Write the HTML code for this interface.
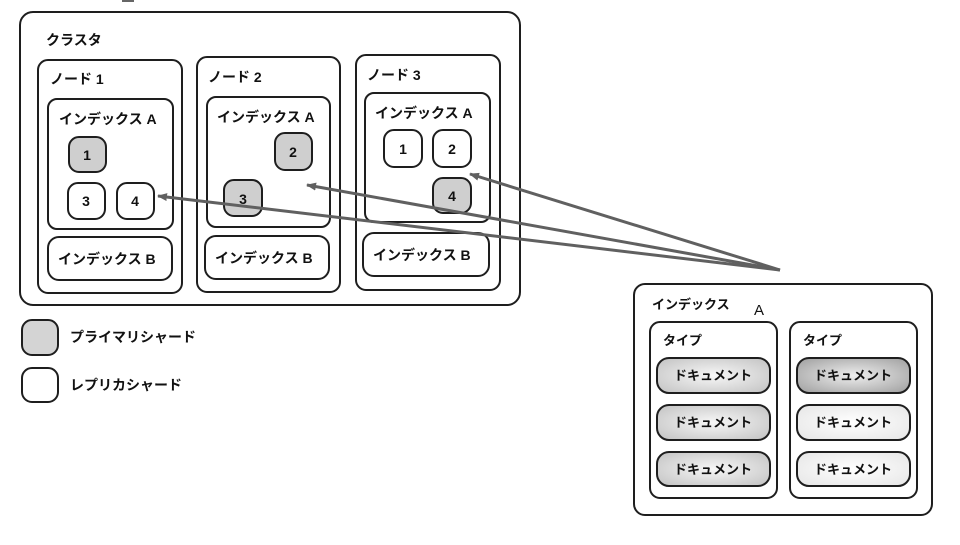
<!DOCTYPE html>
<html><head><meta charset="utf-8"><style>
html,body{margin:0;padding:0;background:#fff;}
svg text{font-family:"Liberation Sans","Noto Sans CJK JP",sans-serif;fill:#111;font-weight:bold;}
</style></head><body>
<svg width="960" height="540" viewBox="0 0 960 540" xmlns="http://www.w3.org/2000/svg">
<defs>
<radialGradient id="gd" cx="50%" cy="50%" r="60%">
<stop offset="0" stop-color="#f7f7f7"/><stop offset="1" stop-color="#c9c9c9"/></radialGradient>
<radialGradient id="gk" cx="50%" cy="50%" r="60%">
<stop offset="0" stop-color="#eeeeee"/><stop offset="1" stop-color="#a9a9a9"/></radialGradient>
<radialGradient id="gl" cx="50%" cy="50%" r="60%">
<stop offset="0" stop-color="#ffffff"/><stop offset="1" stop-color="#e9e9e9"/></radialGradient>
<marker id="ah" markerWidth="10" markerHeight="8" refX="9" refY="4" orient="auto" markerUnits="userSpaceOnUse">
<path d="M0,0 L10,4 L0,8 Z" fill="#606060"/></marker>
</defs>
<g fill="none" stroke="#1e1e1e" stroke-width="2">
<line x1="122" y1="1" x2="134" y2="1" stroke="#666"/>
<rect x="20" y="12" width="500" height="293" rx="13"/>
<rect x="38" y="60" width="144" height="233" rx="10"/>
<rect x="197" y="57" width="143" height="235" rx="10"/>
<rect x="356" y="55" width="144" height="235" rx="10"/>
<rect x="48" y="99" width="125" height="130" rx="9"/>
<rect x="207" y="97" width="123" height="130" rx="9"/>
<rect x="365" y="93" width="125" height="129" rx="9"/>
<rect x="48" y="237" width="124" height="43" rx="11"/>
<rect x="205" y="236" width="124" height="43" rx="11"/>
<rect x="363" y="233" width="126" height="43" rx="11"/>
<rect x="69" y="137" width="37" height="35" rx="10" fill="#cfcfcf"/>
<rect x="68" y="183" width="37" height="36" rx="10" fill="#fff"/>
<rect x="117" y="183" width="37" height="36" rx="10" fill="#fff"/>
<rect x="275" y="133" width="37" height="37" rx="10" fill="#cfcfcf"/>
<rect x="224" y="180" width="38" height="36" rx="10" fill="#cfcfcf"/>
<rect x="384" y="130" width="38" height="37" rx="10" fill="#fff"/>
<rect x="433" y="130" width="38" height="37" rx="10" fill="#fff"/>
<rect x="433" y="178" width="38" height="35" rx="10" fill="#cfcfcf"/>
<rect x="22" y="320" width="36" height="35" rx="10" fill="#d4d4d4"/>
<rect x="22" y="368" width="36" height="34" rx="10" fill="#fff"/>
<rect x="634" y="284" width="298" height="231" rx="11"/>
<rect x="650" y="322" width="127" height="176" rx="10"/>
<rect x="790" y="322" width="127" height="176" rx="10"/>
<rect x="657" y="358" width="113" height="35" rx="12" fill="url(#gd)"/>
<rect x="657" y="405" width="113" height="35" rx="12" fill="url(#gd)"/>
<rect x="657" y="452" width="113" height="34" rx="12" fill="url(#gd)"/>
<rect x="797" y="358" width="113" height="35" rx="12" fill="url(#gk)"/>
<rect x="797" y="405" width="113" height="35" rx="12" fill="url(#gl)"/>
<rect x="797" y="452" width="113" height="34" rx="12" fill="url(#gl)"/>
</g>
<g font-size="14">
<text x="46" y="45">クラスタ</text>
<text x="50" y="84">ノード 1</text>
<text x="208" y="82">ノード 2</text>
<text x="367" y="80">ノード 3</text>
<text x="59" y="124">インデックス A</text>
<text x="217" y="122">インデックス A</text>
<text x="375" y="118">インデックス A</text>
<text x="58" y="264">インデックス B</text>
<text x="215" y="263">インデックス B</text>
<text x="373" y="260">インデックス B</text>
<text x="70" y="342">プライマリシャード</text>
<text x="70" y="390">レプリカシャード</text>
<text x="652" y="309" font-size="13">インデックス</text>
<text x="663" y="345" font-size="13">タイプ</text>
<text x="803" y="345" font-size="13">タイプ</text>
</g>
<text x="754" y="315" font-size="15" style="font-weight:normal">A</text>
<g font-size="14" text-anchor="middle" style="font-weight:normal">
<text x="87" y="160">1</text>
<text x="86" y="206">3</text>
<text x="135" y="206">4</text>
<text x="293" y="157">2</text>
<text x="243" y="204">3</text>
<text x="403" y="154">1</text>
<text x="452" y="154">2</text>
<text x="452" y="201">4</text>
</g>
<g font-size="13" text-anchor="middle">
<text x="713" y="380">ドキュメント</text>
<text x="713" y="427">ドキュメント</text>
<text x="713" y="474">ドキュメント</text>
<text x="853" y="380">ドキュメント</text>
<text x="853" y="427">ドキュメント</text>
<text x="853" y="474">ドキュメント</text>
</g>
<g stroke="#606060" stroke-width="3" fill="none" marker-end="url(#ah)">
<line x1="780" y1="270" x2="158" y2="196"/>
<line x1="780" y1="270" x2="307" y2="185"/>
<line x1="780" y1="270" x2="470" y2="174"/>
</g>
</svg>
</body></html>
